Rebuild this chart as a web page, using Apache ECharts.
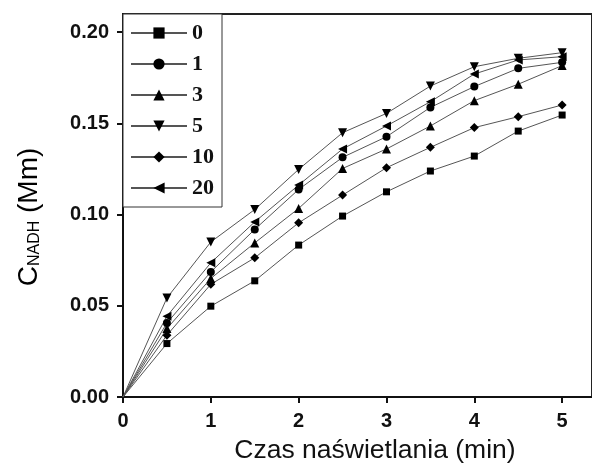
<!DOCTYPE html>
<html>
<head>
<meta charset="utf-8">
<script src="https://cdn.jsdelivr.net/npm/echarts@6/dist/echarts.min.js"></script>
<style>
html,body{margin:0;padding:0;background:#fff;}
#main{width:592px;height:463px;}
</style>
</head>
<body>
<div id="main"></div>
<script>
var xValues = [0, 0.5, 1, 1.5, 2, 2.5, 3, 3.5, 4, 4.5, 5];
var seriesNames = ['0', '1', '3', '5', '10', '20'];
var s0  = [0, 0.0293, 0.0498, 0.0637, 0.0833, 0.0992, 0.1125, 0.1239, 0.1321, 0.1458, 0.1546];
var s1  = [0, 0.0406, 0.0686, 0.0919, 0.1138, 0.1314, 0.1427, 0.1588, 0.1702, 0.1802, 0.1835];
var s3  = [0, 0.0375, 0.0650, 0.0845, 0.1034, 0.1253, 0.1360, 0.1486, 0.1625, 0.1715, 0.1817];
var s5  = [0, 0.0543, 0.0850, 0.1028, 0.1248, 0.1449, 0.1555, 0.1705, 0.1811, 0.1857, 0.1888];
var s10 = [0, 0.0339, 0.0618, 0.0763, 0.0955, 0.1107, 0.1257, 0.1369, 0.1477, 0.1537, 0.1601];
var s20 = [0, 0.0443, 0.0736, 0.0960, 0.1162, 0.1360, 0.1486, 0.1619, 0.1771, 0.1848, 0.1866];
var yTicks = [0, 0.05, 0.10, 0.15, 0.20];
var xTicks = [0, 1, 2, 3, 4, 5];

var allData = [s0, s1, s3, s5, s10, s20];
var symbols = ['rect', 'circle', 'triangle', 'triangle', 'diamond', 'triangle'];
var rotates = [0, 0, 0, 180, 0, 90];
var sizes = [7, 8, 9, 9, 9, 9];

function pairs(arr) {
  return arr.map(function (v, i) { return [xValues[i], v]; });
}

var series = seriesNames.map(function (name, k) {
  return {
    name: name,
    type: 'line',
    data: pairs(allData[k]),
    symbol: symbols[k],
    symbolRotate: rotates[k],
    symbolSize: sizes[k],
    showAllSymbol: true,
    lineStyle: { color: '#555', width: 1 },
    itemStyle: { color: '#000' },
    emphasis: { disabled: true },
    z: 3
  };
});
series.forEach(function (s) {
  s.data[0] = { value: s.data[0], symbol: 'none' };
});

var chart = echarts.init(document.getElementById('main'), null, { renderer: 'canvas' });
chart.setOption({
  animation: false,
  backgroundColor: '#fff',
  grid: {
    left: 123, top: 14, right: -4, bottom: 66,
    show: true, borderColor: '#222', borderWidth: 2, containLabel: false
  },
  legend: {
    data: seriesNames,
    orient: 'vertical',
    left: 123, top: 14,
    padding: [8, 8, 8, 7],
    itemWidth: 56, itemHeight: 14, itemGap: 9,
    borderColor: '#333', borderWidth: 1,
    backgroundColor: '#fff',
    textStyle: { fontFamily: 'Liberation Serif', fontWeight: 'bold', fontSize: 22, lineHeight: 20, color: '#111' },
    selectedMode: false
  },
  xAxis: {
    type: 'value',
    min: 0, max: 5.34, interval: 1,
    axisLine: { show: true, lineStyle: { color: '#111', width: 2 } },
    axisTick: { show: true, length: 6, lineStyle: { color: '#111', width: 2 } },
    axisLabel: {
      showMaxLabel: false,
      margin: 14,
      fontFamily: 'Liberation Sans', fontWeight: 'bold', fontSize: 20, color: '#111',
      formatter: function (v) { return xTicks.indexOf(v) >= 0 ? String(v) : ''; }
    },
    splitLine: { show: false }
  },
  yAxis: {
    type: 'value',
    min: 0, max: 0.21, interval: 0.05,
    axisLine: { show: true, lineStyle: { color: '#111', width: 2 } },
    axisTick: { show: true, length: 6, lineStyle: { color: '#111', width: 2 } },
    axisLabel: {
      showMaxLabel: false,
      margin: 14,
      fontFamily: 'Liberation Sans', fontWeight: 'bold', fontSize: 20, color: '#111',
      formatter: function (v) {
        for (var i = 0; i < yTicks.length; i++) {
          if (Math.abs(yTicks[i] - v) < 1e-9) return yTicks[i].toFixed(2);
        }
        return '';
      }
    },
    splitLine: { show: false }
  },
  graphic: [
    {
      type: 'text',
      x: 28, y: 217,
      rotation: Math.PI / 2,
      style: {
        text: '{a|C}{b|NADH}{a| (Mm)}',
        align: 'center', verticalAlign: 'middle',
        rich: {
          a: { fontFamily: 'Liberation Sans', fontSize: 28, color: '#111', verticalAlign: 'bottom', lineHeight: 30 },
          b: { fontFamily: 'Liberation Sans', fontSize: 16, color: '#111', verticalAlign: 'bottom', lineHeight: 20 }
        }
      }
    },
    {
      type: 'text',
      x: 375, y: 451,
      style: {
        text: 'Czas naświetlania (min)',
        align: 'center', verticalAlign: 'middle',
        fontFamily: 'Liberation Sans', fontSize: 26.5, fill: '#111'
      }
    }
  ],
  series: series
});
</script>
</body>
</html>
